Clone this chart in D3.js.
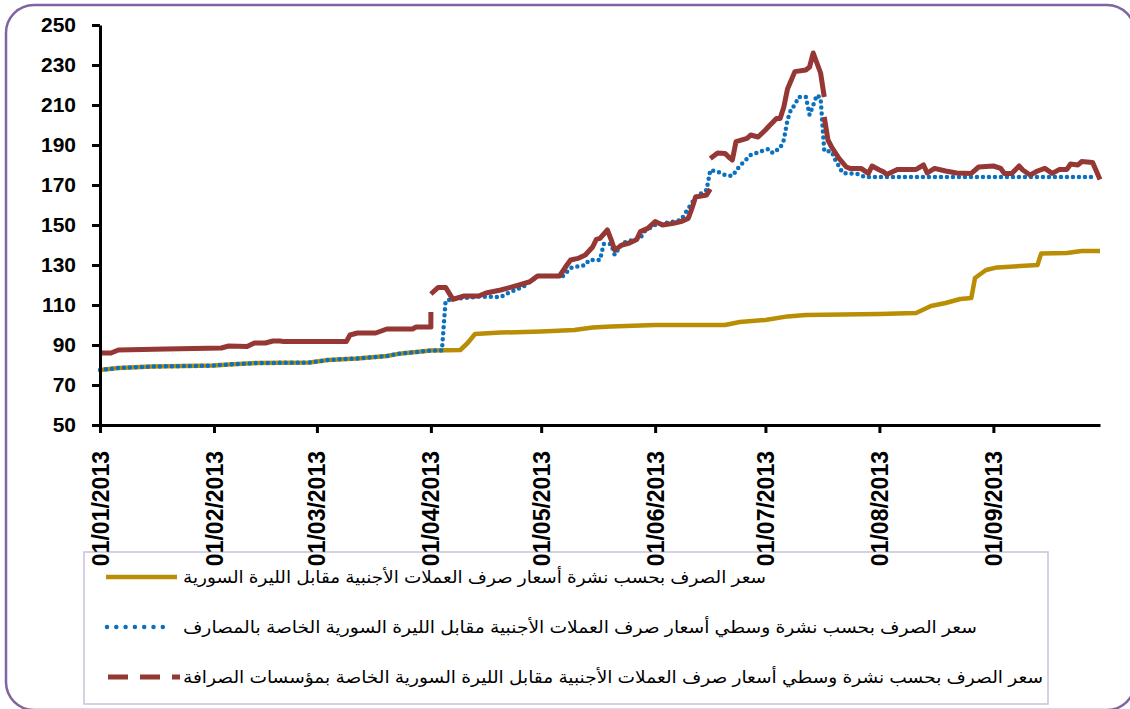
<!DOCTYPE html>
<html>
<head>
<meta charset="utf-8">
<script src="https://cdn.jsdelivr.net/npm/d3@7/dist/d3.min.js"></script>
<style>
  body { margin: 0; background: #fff; }
  svg { display: block; }
</style>
</head>
<body>
<div id="chart"></div>
<script>
// values (SYP per USD, 2013)
var yTicks = [50, 70, 90, 110, 130, 150, 170, 190, 210, 230, 250];
var xTickDates = ["2013-01-01", "2013-02-01", "2013-03-01", "2013-04-01", "2013-05-01",
                  "2013-06-01", "2013-07-01", "2013-08-01", "2013-09-01"];

var legendLabels = [
    "سعر الصرف بحسب نشرة أسعار صرف العملات الأجنبية مقابل الليرة السورية",
    "سعر الصرف بحسب نشرة وسطي أسعار صرف العملات الأجنبية مقابل الليرة السورية الخاصة بالمصارف",
    "سعر الصرف بحسب نشرة وسطي أسعار صرف العملات الأجنبية مقابل الليرة السورية الخاصة بمؤسسات الصرافة"
];

// official bulletin
var officialRate = [
    ["2013-01-01", 77.5], ["2013-01-06", 78.5], ["2013-01-15", 79.2], ["2013-02-01", 79.7],
    ["2013-02-05", 80.3], ["2013-02-13", 81], ["2013-02-27", 81.2], ["2013-03-04", 82.5],
    ["2013-03-12", 83.3], ["2013-03-20", 84.5], ["2013-03-24", 85.8], ["2013-03-28", 86.5],
    ["2013-04-01", 87.2], ["2013-04-09", 87.5], ["2013-04-11", 91], ["2013-04-13", 95.5],
    ["2013-04-20", 96.2], ["2013-05-01", 96.8], ["2013-05-10", 97.5], ["2013-05-15", 98.8],
    ["2013-05-20", 99.3], ["2013-06-01", 100], ["2013-06-20", 100], ["2013-06-24", 101.5],
    ["2013-07-01", 102.5], ["2013-07-07", 104.3], ["2013-07-12", 105], ["2013-08-01", 105.5],
    ["2013-08-11", 106], ["2013-08-15", 109.5], ["2013-08-19", 111], ["2013-08-23", 113],
    ["2013-08-26", 113.5], ["2013-08-27", 123.5], ["2013-08-30", 127.5], ["2013-09-02", 128.8],
    ["2013-09-13", 130], ["2013-09-14", 135.8], ["2013-09-21", 136], ["2013-09-25", 137],
    ["2013-09-30", 137]
];

// banks average
var bankRate = [
    ["2013-01-01", 77.5], ["2013-01-06", 78.5], ["2013-01-15", 79.2], ["2013-02-01", 79.7],
    ["2013-02-05", 80.3], ["2013-02-13", 81], ["2013-02-27", 81.2], ["2013-03-04", 82.5],
    ["2013-03-12", 83.3], ["2013-03-20", 84.5], ["2013-03-24", 85.8], ["2013-03-28", 86.5],
    ["2013-04-01", 87.2], ["2013-04-04", 87.3], ["2013-04-05", 112], ["2013-04-07", 113],
    ["2013-04-14", 114.2], ["2013-04-20", 114], ["2013-04-22", 116], ["2013-04-26", 119],
    ["2013-04-30", 124.5], ["2013-05-07", 124.5], ["2013-05-09", 128.5], ["2013-05-13", 130],
    ["2013-05-14", 132.5], ["2013-05-17", 132.5], ["2013-05-18", 140.5], ["2013-05-20", 140.5],
    ["2013-05-21", 135], ["2013-05-23", 141], ["2013-05-28", 143.5], ["2013-05-29", 146.7],
    ["2013-06-01", 150], ["2013-06-06", 151.7], ["2013-06-08", 152.5], ["2013-06-11", 161],
    ["2013-06-12", 164], ["2013-06-15", 167.5], ["2013-06-16", 177.5], ["2013-06-18", 176.7],
    ["2013-06-20", 175], ["2013-06-22", 174.5], ["2013-06-24", 179.5], ["2013-06-27", 185],
    ["2013-06-30", 187], ["2013-07-02", 188], ["2013-07-03", 186], ["2013-07-05", 188.5],
    ["2013-07-06", 192.5], ["2013-07-07", 202.5], ["2013-07-08", 208], ["2013-07-09", 210],
    ["2013-07-10", 214], ["2013-07-12", 214], ["2013-07-13", 205], ["2013-07-14", 210],
    ["2013-07-15", 215], ["2013-07-16", 213.5], ["2013-07-17", 187], ["2013-07-19", 186.7],
    ["2013-07-20", 182.5], ["2013-07-22", 176], ["2013-07-26", 175.5], ["2013-07-28", 174],
    ["2013-09-29", 174]
];

// exchange companies average (null = break in the dashed line)
var exchangeRate = [
    ["2013-01-01", 86], ["2013-01-04", 86], ["2013-01-06", 87.5], ["2013-01-19", 88],
    ["2013-02-03", 88.5], ["2013-02-05", 89.5], ["2013-02-10", 89.2], ["2013-02-12", 91],
    ["2013-02-15", 91], ["2013-02-17", 92], ["2013-02-19", 92], ["2013-02-20", 91.7],
    ["2013-03-09", 91.7], ["2013-03-10", 95], ["2013-03-12", 96], ["2013-03-17", 96],
    ["2013-03-20", 98], ["2013-03-27", 98], ["2013-03-28", 99], ["2013-04-01", 99],
    ["2013-04-01", 106.5], ["2013-04-01", null], ["2013-04-01", 115.5], ["2013-04-03", 118.8],
    ["2013-04-05", 118.8], ["2013-04-07", 112.8], ["2013-04-10", 114.5], ["2013-04-14", 114.5],
    ["2013-04-16", 116], ["2013-04-20", 117.5], ["2013-04-25", 120], ["2013-04-28", 121.7],
    ["2013-04-30", 124.5], ["2013-05-06", 124.5], ["2013-05-08", 130], ["2013-05-09", 132.5],
    ["2013-05-11", 133.3], ["2013-05-13", 135], ["2013-05-15", 139], ["2013-05-16", 142.8],
    ["2013-05-17", 143.3], ["2013-05-19", 147.5], ["2013-05-20", 142.8], ["2013-05-21", 137.5],
    ["2013-05-23", 140], ["2013-05-25", 141], ["2013-05-27", 142.8], ["2013-05-28", 146.7],
    ["2013-05-30", 148.3], ["2013-06-01", 151.7], ["2013-06-03", 150], ["2013-06-06", 150.8],
    ["2013-06-08", 151.7], ["2013-06-10", 153.3], ["2013-06-11", 158.3], ["2013-06-12", 164],
    ["2013-06-15", 165], ["2013-06-16", 168], ["2013-06-16", null], ["2013-06-16", 183.3],
    ["2013-06-18", 186], ["2013-06-20", 185.8], ["2013-06-21", 184], ["2013-06-22", 182.5],
    ["2013-06-23", 191.7], ["2013-06-26", 193.3], ["2013-06-27", 195], ["2013-06-29", 194],
    ["2013-07-01", 197.5], ["2013-07-02", 199.5], ["2013-07-04", 203.3], ["2013-07-05", 203.3],
    ["2013-07-06", 209], ["2013-07-07", 218], ["2013-07-09", 226.7], ["2013-07-12", 227.5],
    ["2013-07-13", 229], ["2013-07-14", 236], ["2013-07-15", 231], ["2013-07-16", 226],
    ["2013-07-17", 214], ["2013-07-17", null], ["2013-07-17", 204], ["2013-07-18", 192.5],
    ["2013-07-19", 189], ["2013-07-21", 183.3], ["2013-07-23", 179], ["2013-07-24", 178.3],
    ["2013-07-27", 178.3], ["2013-07-29", 175.8], ["2013-07-30", 179.5], ["2013-08-01", 177.5],
    ["2013-08-02", 176.7], ["2013-08-03", 175.3], ["2013-08-05", 177], ["2013-08-06", 177.8],
    ["2013-08-11", 177.8], ["2013-08-13", 180], ["2013-08-14", 176], ["2013-08-16", 178.3],
    ["2013-08-19", 177], ["2013-08-22", 176], ["2013-08-26", 175.8], ["2013-08-28", 179],
    ["2013-09-01", 179.5], ["2013-09-03", 178.3], ["2013-09-04", 175.8], ["2013-09-06", 175.8],
    ["2013-09-08", 179.5], ["2013-09-09", 177.5], ["2013-09-11", 175], ["2013-09-13", 177],
    ["2013-09-15", 178.3], ["2013-09-17", 175.8], ["2013-09-19", 177.8], ["2013-09-21", 177.8],
    ["2013-09-22", 180.5], ["2013-09-24", 180], ["2013-09-25", 181.7], ["2013-09-28", 181.2],
    ["2013-09-30", 172.8]
];

var parseDate = d3.timeParse("%Y-%m-%d");
var formatDate = d3.timeFormat("%d/%m/%Y");

var margin = {top: 25, right: 30, bottom: 284, left: 100},
    width = 1130 - margin.left - margin.right,
    height = 709 - margin.top - margin.bottom;

var svg = d3.select("#chart")
    .append("svg")
    .attr("width", 1130)
    .attr("height", 709);

// rounded outer frame
svg.append("rect")
    .attr("x", 6).attr("y", 5)
    .attr("width", 1129).attr("height", 705)
    .attr("rx", 28)
    .attr("fill", "none")
    .attr("stroke", "#8064a2")
    .attr("stroke-width", 2.5);

// legend box (drawn before the axis so the date labels sit on top of it)
svg.append("rect")
    .attr("x", 84).attr("y", 552)
    .attr("width", 964).attr("height", 152)
    .attr("fill", "none")
    .attr("stroke", "#c9c1dd")
    .attr("stroke-width", 1.5);

var g = svg.append("g")
    .attr("transform", "translate(" + margin.left + "," + margin.top + ")");

var x = d3.scaleTime()
    .domain([parseDate("2013-01-01"), parseDate("2013-09-30")])
    .range([0, width]);

var y = d3.scaleLinear()
    .domain([50, 250])
    .range([height, 0]);

var line = d3.line()
    .defined(function(d) { return d[1] != null; })
    .x(function(d) { return x(parseDate(d[0])); })
    .y(function(d) { return y(d[1]); });

var colors = ["#b98e05", "#0a70c0", "#953735"];

// series
g.append("path")
    .datum(officialRate)
    .attr("d", line)
    .attr("fill", "none")
    .attr("stroke", colors[0])
    .attr("stroke-width", 4.5)
    .attr("stroke-linejoin", "round");

g.append("path")
    .datum(bankRate)
    .attr("d", line)
    .attr("fill", "none")
    .attr("stroke", colors[1])
    .attr("stroke-width", 4.5)
    .attr("stroke-linecap", "round")
    .attr("stroke-dasharray", "0 6");

g.append("path")
    .datum(exchangeRate)
    .attr("d", line)
    .attr("fill", "none")
    .attr("stroke", colors[2])
    .attr("stroke-width", 5)
    .attr("stroke-linejoin", "round");

// y axis
var yAxis = g.append("g")
    .call(d3.axisLeft(y).tickValues(yTicks).tickSize(8).tickSizeOuter(0).tickPadding(16));

// x axis
var xAxis = g.append("g")
    .attr("transform", "translate(0," + height + ")")
    .call(d3.axisBottom(x)
        .tickValues(xTickDates.map(parseDate))
        .tickSize(8)
        .tickSizeOuter(0)
        .tickFormat(formatDate));

xAxis.selectAll("text")
    .attr("x", -26)
    .attr("y", 0)
    .attr("dy", "0.35em")
    .attr("transform", "rotate(-90)")
    .style("text-anchor", "end")
    .style("font-size", "23px");

[yAxis, xAxis].forEach(function(a) {
    a.selectAll("path, line").attr("stroke", "#000").attr("stroke-width", 3);
    a.selectAll("text")
        .attr("fill", "#000")
        .style("font-family", "Arial, 'Liberation Sans', sans-serif")
        .style("font-weight", "bold");
});
yAxis.selectAll("text").style("font-size", "21px");

// legend
var legendRows = [577, 627, 677];
var legendTextWidth = [583, 794, 860];
var legendDash = [null, "0 9.3", "20 12"];
var legendStart = [106, 107, 108], legendEnd = [177, 172, 180];

legendLabels.forEach(function(label, i) {
    svg.append("line")
        .attr("x1", legendStart[i]).attr("x2", legendEnd[i])
        .attr("y1", legendRows[i]).attr("y2", legendRows[i])
        .attr("stroke", colors[i])
        .attr("stroke-width", i == 2 ? 5 : 4.5)
        .attr("stroke-linecap", i == 1 ? "round" : "butt")
        .attr("stroke-dasharray", legendDash[i]);

    svg.append("text")
        .attr("x", 183)
        .attr("y", legendRows[i] + 6)
        .attr("textLength", legendTextWidth[i])
        .attr("lengthAdjust", "spacingAndGlyphs")
        .style("font-family", "Arial, 'DejaVu Sans', sans-serif")
        .style("font-size", "17px")
        .attr("fill", "#000")
        .text(label);
});
</script>
</body>
</html>
